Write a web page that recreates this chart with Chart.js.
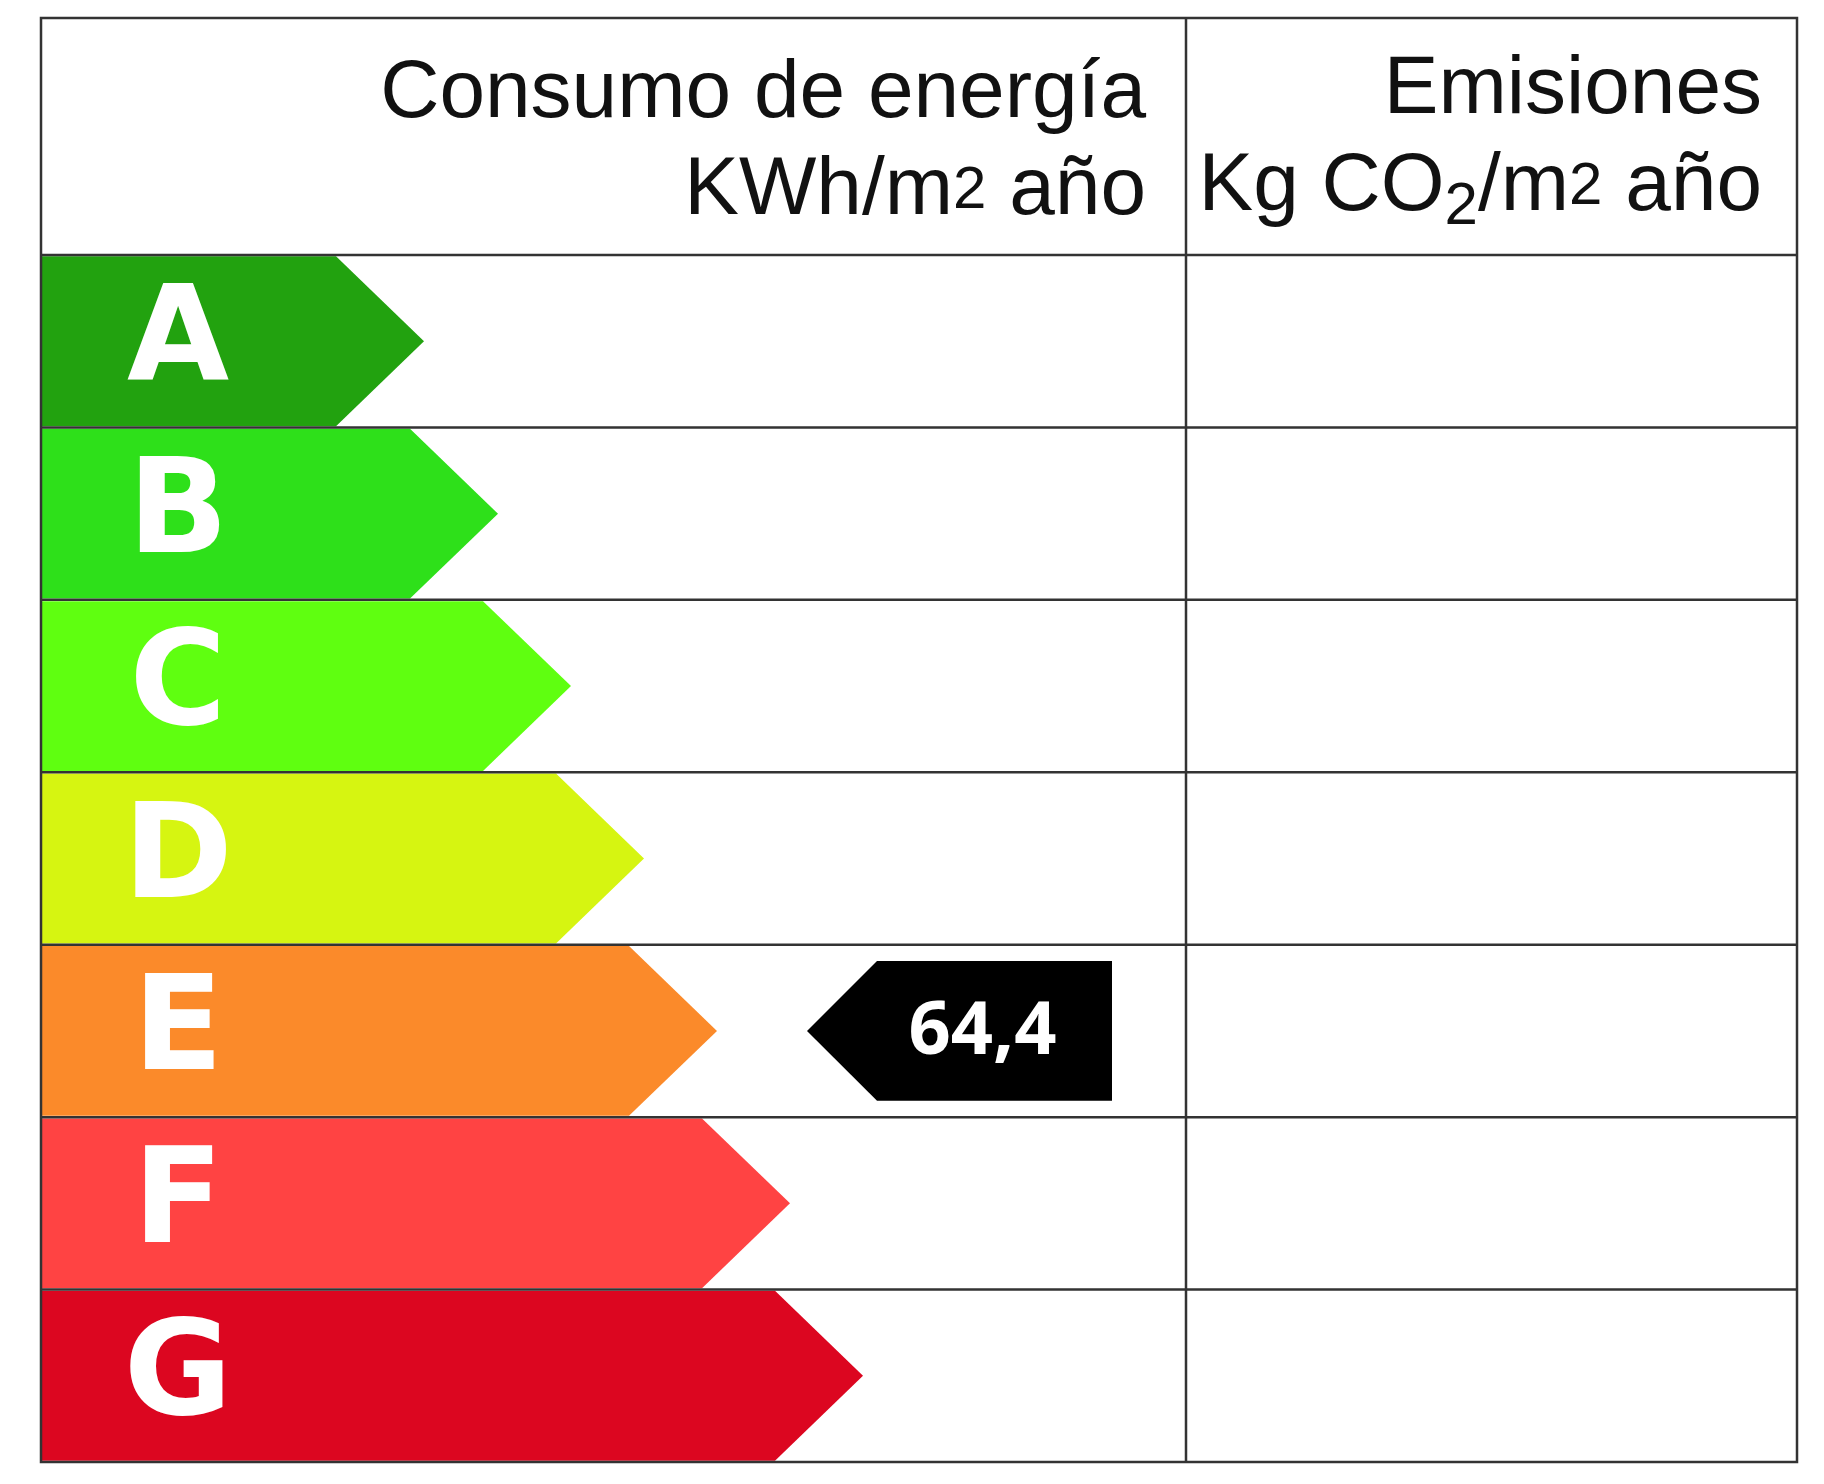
<!DOCTYPE html>
<html>
<head>
<meta charset="utf-8">
<script src="https://cdn.jsdelivr.net/npm/chart.js@4"></script>
<style>
  html, body { margin: 0; padding: 0; background: #fff; }
  #wrap { width: 1824px; height: 1484px; }
</style>
</head>
<body>
<div id="wrap"><canvas id="chart-energy" width="1824" height="1484"></canvas></div>
<script>
const classes = ['A', 'B', 'C', 'D', 'E', 'F', 'G'];
const arrowTips = [383, 457, 530, 603, 676, 749, 822];
const classColors = ['#22a20f', '#2ee01a', '#5fff10', '#d6f511', '#fb8a2a', '#ff4343', '#dc0620'];
const ratingClass = 'E';
const ratingLabel = '64,4';
const ratingRange = [766, 1071];

const TABLE = { left: 41, right: 1797, top: 18, headerBottom: 255, bottom: 1462, divider: 1186 };
const ARROW_HEAD = 88;

const markerData = classes.map(c => c === ratingClass ? ratingRange : null);

// draws arrows instead of plain bars, plus the table grid and header
const energyLabelPlugin = {
    id: 'energyLabel',
    afterDatasetsDraw(chart) {
        const ctx = chart.ctx;
        const bars = chart.getDatasetMeta(0).data;
        ctx.save();
        bars.forEach((bar, i) => {
            const top = bar.y - bar.height / 2, bottom = bar.y + bar.height / 2;
            ctx.fillStyle = classColors[i];
            ctx.beginPath();
            ctx.moveTo(bar.base, top);
            ctx.lineTo(bar.x - ARROW_HEAD, top);
            ctx.lineTo(bar.x, bar.y);
            ctx.lineTo(bar.x - ARROW_HEAD, bottom);
            ctx.lineTo(bar.base, bottom);
            ctx.closePath();
            ctx.fill();
            ctx.fillStyle = '#fff';
            ctx.font = 'bold 132px "DejaVu Sans"';
            ctx.textAlign = 'center';
            ctx.textBaseline = 'middle';
            ctx.fillText(classes[i], 178, bar.y + 4);
        });

        // rating marker
        chart.getDatasetMeta(1).data.forEach((m, i) => {
            if (markerData[i] === null) return;
            const left = Math.min(m.x, m.base), right = Math.max(m.x, m.base);
            const top = m.y - m.height / 2, bottom = m.y + m.height / 2;
            const head = 70;
            ctx.fillStyle = '#000';
            ctx.beginPath();
            ctx.moveTo(left, m.y);
            ctx.lineTo(left + head, top);
            ctx.lineTo(right, top);
            ctx.lineTo(right, bottom);
            ctx.lineTo(left + head, bottom);
            ctx.closePath();
            ctx.fill();
            ctx.fillStyle = '#fff';
            ctx.font = 'bold 74px "Open Sans"';
            ctx.textAlign = 'center';
            ctx.textBaseline = 'middle';
            ctx.fillText(ratingLabel, left + head + (right - left - head) / 2 - 12, m.y + 2);
        });

        // grid
        ctx.strokeStyle = '#333';
        ctx.lineWidth = 2.5;
        ctx.strokeRect(TABLE.left, TABLE.top, TABLE.right - TABLE.left, TABLE.bottom - TABLE.top);
        ctx.beginPath();
        ctx.moveTo(TABLE.divider, TABLE.top);
        ctx.lineTo(TABLE.divider, TABLE.bottom);
        const rowH = (TABLE.bottom - TABLE.headerBottom) / classes.length;
        for (let r = 0; r < classes.length; r++) {
            const y = TABLE.headerBottom + r * rowH;
            ctx.moveTo(TABLE.left, y);
            ctx.lineTo(TABLE.right, y);
        }
        ctx.stroke();

        // header
        ctx.fillStyle = '#111';
        ctx.textBaseline = 'alphabetic';
        ctx.textAlign = 'right';
        ctx.font = '82px "Liberation Sans"';
        ctx.fillText('Consumo de energía', 1146, 117);
        ctx.fillText('Emisiones', 1762, 113);
        drawRuns(ctx, 1146, 214, [['KWh/m', 0, 82], ['2', -6, 60], [' año', 0, 82]]);
        drawRuns(ctx, 1762, 210, [['Kg CO', 0, 82], ['2', 14, 60], ['/m', 0, 82], ['2', -6, 60], [' año', 0, 82]]);
        ctx.restore();
    }
};

function drawRuns(ctx, rightX, baseline, runs) {
    let total = 0;
    runs.forEach(r => { ctx.font = r[2] + 'px "Liberation Sans"'; total += ctx.measureText(r[0]).width; });
    let x = rightX - total;
    ctx.textAlign = 'left';
    runs.forEach(r => {
        ctx.font = r[2] + 'px "Liberation Sans"';
        ctx.fillText(r[0], x, baseline + r[1]);
        x += ctx.measureText(r[0]).width;
    });
    ctx.textAlign = 'right';
}

new Chart(document.getElementById('chart-energy').getContext('2d'), {
    type: 'bar',
    data: {
        labels: classes,
        datasets: [{
            data: arrowTips,
            backgroundColor: 'rgba(0,0,0,0)',
            barPercentage: 0.985,
            categoryPercentage: 1.0,
            grouped: false
        }, {
            data: markerData,
            backgroundColor: 'rgba(0,0,0,0)',
            barPercentage: 0.81,
            categoryPercentage: 1.0,
            grouped: false
        }]
    },
    options: {
        indexAxis: 'y',
        responsive: false,
        devicePixelRatio: 1,
        animation: false,
        events: [],
        layout: { padding: { left: TABLE.left, right: 1824 - TABLE.right, top: TABLE.headerBottom, bottom: 1484 - TABLE.bottom } },
        plugins: { legend: { display: false }, tooltip: { enabled: false } },
        scales: {
            x: { display: false, min: 0, max: TABLE.right - TABLE.left },
            y: { display: false }
        }
    },
    plugins: [energyLabelPlugin]
});
</script>
</body>
</html>
